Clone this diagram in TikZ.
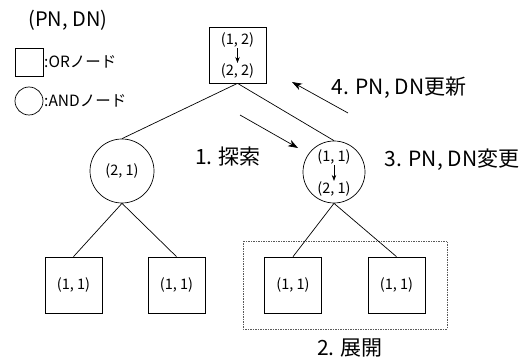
\documentclass[tikz,border=0pt]{standalone}
\usepackage{fontspec}
\setmainfont{Noto Sans CJK JP}
\usetikzlibrary{arrows.meta}
\tikzset{
  orbox/.style={draw, line width=0.7pt, minimum width=57pt, minimum height=56pt, inner sep=0pt},
  andcirc/.style={draw, circle, line width=0.7pt, minimum size=#1, inner sep=0pt},
  val/.style={font=\fontsize{14.5}{14.5}\selectfont, inner sep=0pt},
  big/.style={font=\fontsize{21}{21}\selectfont, inner sep=0pt},
  leg/.style={font=\fontsize{15.5}{15.5}\selectfont, inner sep=0pt},
  edge/.style={line width=0.7pt},
  smallarr/.style={line width=0.7pt, -{Stealth[length=6pt,width=4.5pt]}, shorten <=0.5pt, shorten >=0.5pt},
  bigarr/.style={line width=0.7pt, -{Stealth[length=10pt,width=7pt,inset=3pt]}},
}
\begin{document}
\begin{tikzpicture}[x=1pt,y=-1pt]
\useasboundingbox (0,0) rectangle (530,363);
% legend
\node[font=\fontsize{20}{20}\selectfont, inner sep=0pt] (title) at (68,20) {(PN, DN)};
\node[draw, line width=0.7pt, minimum width=28pt, minimum height=28pt, inner sep=0pt] (legsq) at (29,62) {};
\node[leg, anchor=west] (legor) at (44,62) {:ORノード};
\node[andcirc=28pt] (legc) at (29,101) {};
\node[leg, anchor=west] (legand) at (44,101) {:ANDノード};
% root
\node[orbox] (root) at (237.5,55) {};
\node[val] (r1) at (237.5,40) {(1, 2)};
\node[val] (r2) at (237.5,71) {(2, 2)};
\draw[smallarr] (r1) -- (r2);
% AND nodes
\node[andcirc=64pt, val] (lc) at (122,171) {(2, 1)};
\node[andcirc=62pt] (rc) at (334,172) {};
\node[val] (c1) at (334,157) {(1, 1)};
\node[val] (c2) at (334,189) {(2, 1)};
\draw[smallarr] (c1) -- (c2);
% leaves
\node[orbox, val] (b1) at (73.5,285) {(1, 1)};
\node[orbox, val] (b2) at (176.5,285) {(1, 1)};
\node[orbox, val] (b3) at (293,285) {(1, 1)};
\node[orbox, val] (b4) at (396.5,285) {(1, 1)};
% expansion box
\draw[line width=0.7pt, dash pattern=on 1.5pt off 1pt, gray!70!black] (243,241) rectangle (447,329);
% edges
\draw[edge] (root.south) -- (lc.north);
\draw[edge] (root.south) -- (rc.north);
\draw[edge] (lc.south) -- (b1.north);
\draw[edge] (lc.south) -- (b2.north);
\draw[edge] (rc.south) -- (b3.north);
\draw[edge] (rc.south) -- (b4.north);
% process arrows
\coordinate (a1s) at (240,115);
\coordinate (a1e) at (298,148);
\draw[bigarr] (a1s) -- (a1e);
\coordinate (a4s) at (348,113);
\coordinate (a4e) at (292,82);
\draw[bigarr] (a4s) -- (a4e);
% labels
\node[big] (l1) at (228,157) {1. 探索};
\node[big] (l3) at (452,160) {3. PN, DN変更};
\node[big] (l4) at (399,88) {4. PN, DN更新};
\node[big] (l2) at (350,348) {2. 展開};
\end{tikzpicture}
\end{document}
